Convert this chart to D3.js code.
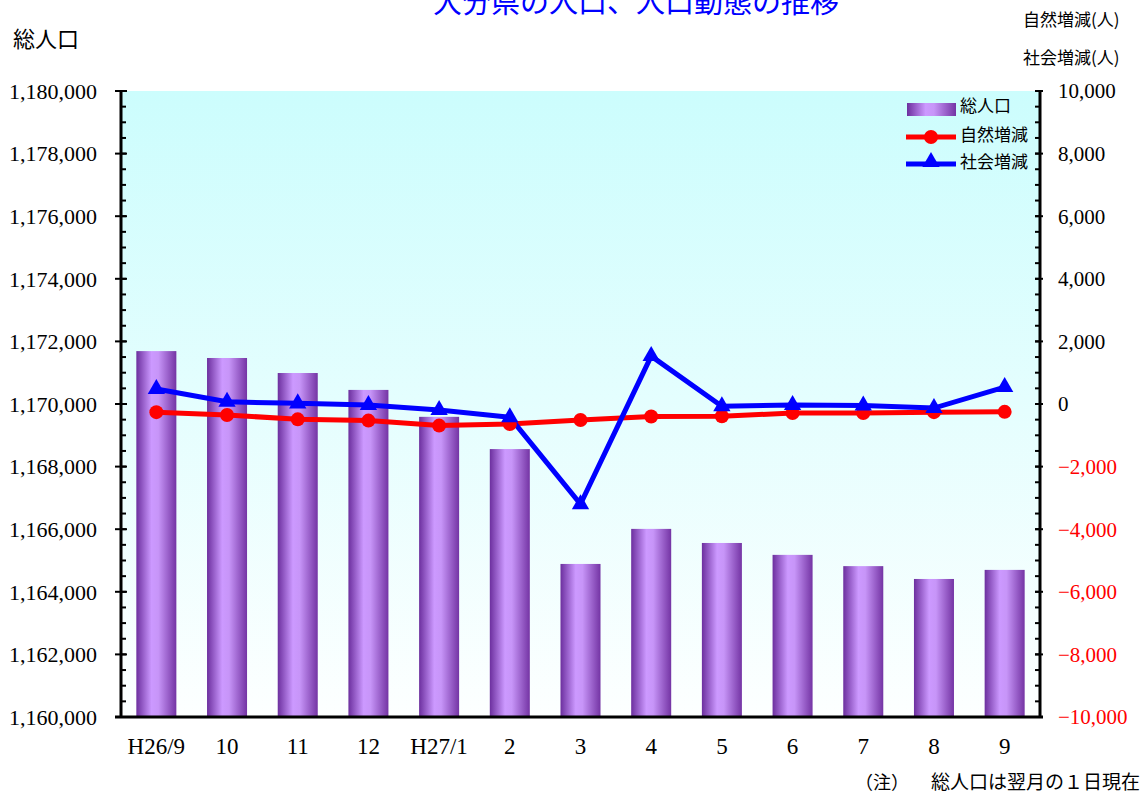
<!DOCTYPE html>
<html><head><meta charset="utf-8">
<script src="https://cdn.jsdelivr.net/npm/d3@7"></script>
<style>body{margin:0;background:#fff}svg{display:block}</style>
</head><body>
<script>
const categories = ["H26/9","10","11","12","H27/1","2","3","4","5","6","7","8","9"];
const population = [1171690,1171470,1170990,1170450,1169590,1168560,1164890,1166010,1165560,1165180,1164820,1164410,1164700];
const naturalChange = [-260,-350,-490,-530,-690,-640,-510,-400,-390,-290,-290,-260,-250];
const socialChange = [480,70,20,-30,-190,-420,-3200,1530,-70,-30,-50,-130,540];
const leftTicks = d3.range(1160000,1180001,2000);
const rightTicks = d3.range(-10000,10001,2000);

const W=1141,H=796;
const L=121,R=1040,T=91,B=717;
const svg=d3.select("body").append("svg").attr("width",W).attr("height",H);
const defs=svg.append("defs");
const bg=defs.append("linearGradient").attr("id","bg").attr("x1",0).attr("y1",0).attr("x2",0).attr("y2",1);
bg.append("stop").attr("offset","0%").attr("stop-color","#ccfdfd");
bg.append("stop").attr("offset","100%").attr("stop-color","#fdffff");
const bar=defs.append("linearGradient").attr("id","bar").attr("x1",0).attr("y1",0).attr("x2",1).attr("y2",0);
[["0%","#6c2f9e"],["38%","#cc99ff"],["55%","#c795f8"],["100%","#7434a4"]].forEach(s=>bar.append("stop").attr("offset",s[0]).attr("stop-color",s[1]));

const x=d3.scaleBand().domain(categories).range([L,R]).paddingInner(0.434).paddingOuter(0.217);
const yL=d3.scaleLinear().domain([1160000,1180000]).range([B,T]);
const yR=d3.scaleLinear().domain([-10000,10000]).range([B,T]);
const cx=d=>x(d)+x.bandwidth()/2;

svg.append("rect").attr("x",L).attr("y",T).attr("width",R-L).attr("height",B-T).attr("fill","url(#bg)");

// bars
svg.append("g").selectAll("rect").data(population).join("rect")
  .attr("x",(d,i)=>x(categories[i])).attr("width",x.bandwidth())
  .attr("y",d=>yL(d)).attr("height",d=>B-yL(d)).attr("fill","url(#bar)");

// lines
const lineN=d3.line().x((d,i)=>cx(categories[i])).y(d=>yR(d));
svg.append("path").datum(naturalChange).attr("d",lineN).attr("fill","none").attr("stroke","#ff0000").attr("stroke-width",5);
svg.append("path").datum(socialChange).attr("d",lineN).attr("fill","none").attr("stroke","#0000ff").attr("stroke-width",5);
svg.append("g").selectAll("circle").data(naturalChange).join("circle")
  .attr("cx",(d,i)=>cx(categories[i])).attr("cy",d=>yR(d)).attr("r",7).attr("fill","#ff0000");
const tri=d3.symbol().type(d3.symbolTriangle).size(130);
svg.append("g").selectAll("path").data(socialChange).join("path")
  .attr("d",tri).attr("transform",(d,i)=>`translate(${cx(categories[i])},${yR(d)})`).attr("fill","#0000ff");

// axes
const serif="'Liberation Serif','Times New Roman',serif";
const sans="'Noto Sans CJK JP','Noto Sans',sans-serif";
const ax=svg.append("g").attr("stroke","#000");
ax.append("line").attr("x1",L).attr("x2",L).attr("y1",T-1).attr("y2",B+1).attr("stroke-width",3);
ax.append("line").attr("x1",R).attr("x2",R).attr("y1",T-1).attr("y2",B+1).attr("stroke-width",3);
ax.append("line").attr("x1",L-6).attr("x2",R+3).attr("y1",B).attr("y2",B).attr("stroke-width",3);
const minorL=d3.range(1160000,1180001,500);
ax.selectAll(".ml").data(minorL).join("line").attr("x1",L).attr("x2",L+5).attr("y1",d=>yL(d)).attr("y2",d=>yL(d)).attr("stroke-width",2);
ax.selectAll(".Ml").data(leftTicks).join("line").attr("x1",L-6).attr("x2",L+6).attr("y1",d=>yL(d)).attr("y2",d=>yL(d)).attr("stroke-width",2);
const minorR=d3.range(-10000,10001,500);
ax.selectAll(".mr").data(minorR).join("line").attr("x1",R-5).attr("x2",R).attr("y1",d=>yR(d)).attr("y2",d=>yR(d)).attr("stroke-width",2);
ax.selectAll(".Mr").data(rightTicks).join("line").attr("x1",R-5).attr("x2",R+3).attr("y1",d=>yR(d)).attr("y2",d=>yR(d)).attr("stroke-width",2);

const fmt=d3.format(",");
svg.append("g").selectAll("text").data(leftTicks).join("text")
  .attr("x",97).attr("y",d=>yL(d)).attr("dy","0.35em").attr("text-anchor","end")
  .attr("font-family",serif).attr("font-size",22).attr("fill","#000").text(d=>fmt(d));
svg.append("g").selectAll("text").data(rightTicks).join("text")
  .attr("x",1058).attr("y",d=>yR(d)).attr("dy","0.35em").attr("text-anchor","start")
  .attr("font-family",serif).attr("font-size",21).attr("fill",d=>d<0?"#ff0000":"#000").text(d=>fmt(d));
svg.append("g").selectAll("text").data(categories).join("text")
  .attr("x",d=>cx(d)).attr("y",754).attr("text-anchor","middle")
  .attr("font-family",serif).attr("font-size",23).attr("fill","#000").text(d=>d);

// titles
svg.append("text").attr("x",636).attr("y",13).attr("text-anchor","middle").attr("font-family",sans).attr("font-size",29).attr("fill","#0000ff").text("大分県の人口、人口動態の推移");
svg.append("text").attr("x",13).attr("y",47).attr("font-family",sans).attr("font-size",22).attr("fill","#000").text("総人口");
svg.append("text").attr("x",1023).attr("y",26).attr("font-family",sans).attr("font-size",17).attr("fill","#000").text("自然増減(人)");
svg.append("text").attr("x",1023).attr("y",64).attr("font-family",sans).attr("font-size",17).attr("fill","#000").text("社会増減(人)");
svg.append("text").attr("x",855).attr("y",789).attr("font-family",sans).attr("font-size",18).attr("fill","#000").text("（注）");
svg.append("text").attr("x",931).attr("y",789).attr("font-family",sans).attr("font-size",19).attr("fill","#000").text("総人口は翌月の１日現在");

// legend
const lg=svg.append("g");
lg.append("rect").attr("x",907).attr("y",103).attr("width",49).attr("height",13).attr("fill","url(#bar)");
lg.append("line").attr("x1",906).attr("x2",956).attr("y1",137).attr("y2",137).attr("stroke","#ff0000").attr("stroke-width",5);
lg.append("circle").attr("cx",931).attr("cy",137).attr("r",7).attr("fill","#ff0000");
lg.append("line").attr("x1",906).attr("x2",956).attr("y1",164).attr("y2",164).attr("stroke","#0000ff").attr("stroke-width",5);
lg.append("path").attr("d",tri).attr("transform","translate(931,162)").attr("fill","#0000ff");
[["総人口",106],["自然増減",135],["社会増減",162]].forEach(t=>lg.append("text").attr("x",960).attr("y",t[1]).attr("dy","0.35em").attr("font-family",sans).attr("font-size",17).attr("fill","#000").text(t[0]));
</script>
</body></html>
